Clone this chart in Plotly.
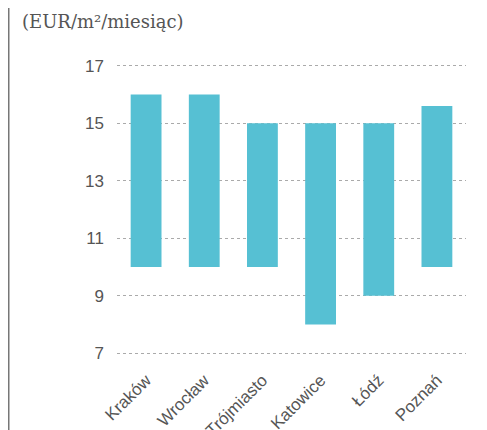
import plotly.graph_objects as go

cities = ["Kraków", "Wrocław", "Trójmiasto", "Katowice", "Łódź", "Poznań"]
rent_low = [10, 10, 10, 8, 9, 10]
rent_high = [16, 16, 15, 15, 15, 15.6]
y_ticks = [7, 9, 11, 13, 15, 17]

BAR_COLOR = "#56c0d3"
TEXT_COLOR = "#555555"

# the page adds an 8px body margin, so the figure is sized to the visible area
W, H = 479, 422
L, R, T, B = 109, 21, 55, 74
plot_w = W - L - R

fig = go.Figure()
fig.add_trace(go.Bar(
    x=cities,
    y=[h - l for l, h in zip(rent_low, rent_high)],
    base=rent_low,
    width=0.53,
    marker=dict(color=BAR_COLOR, line=dict(width=0)),
    showlegend=False,
))

# thin frame line on the left edge of the page
fig.add_shape(
    type="line", xref="paper", yref="paper",
    x0=(0.75 - L) / plot_w, x1=(0.75 - L) / plot_w, y0=-0.4, y1=1.4,
    line=dict(color="#777777", width=1.5),
)

fig.update_layout(
    width=W, height=H,
    margin=dict(l=L, r=R, t=T, b=B),
    plot_bgcolor="white", paper_bgcolor="white",
    font=dict(family="Liberation Sans, Arial, sans-serif", color=TEXT_COLOR),
    title=dict(
        text="(EUR/m²/miesiąc)",
        x=14 / W, xanchor="left", y=1 - 14 / H, yanchor="middle",
        font=dict(family="DejaVu Serif", size=18, color=TEXT_COLOR),
    ),
)
fig.update_xaxes(
    range=[-0.5, 5.5],
    tickangle=-45,
    tickfont=dict(size=17, color=TEXT_COLOR),
    showgrid=False, showline=False, zeroline=False,
    ticks="", ticklabelstandoff=10, automargin=False,
)
fig.update_yaxes(
    range=[6.9, 17.1],
    tickvals=y_ticks,
    tickfont=dict(size=17, color=TEXT_COLOR),
    showgrid=True, gridcolor="#aaaaaa", gridwidth=1, griddash="dot",
    zeroline=False, showline=False,
    ticks="", ticklabelstandoff=12, automargin=False,
)

fig.write_html("out.html")
